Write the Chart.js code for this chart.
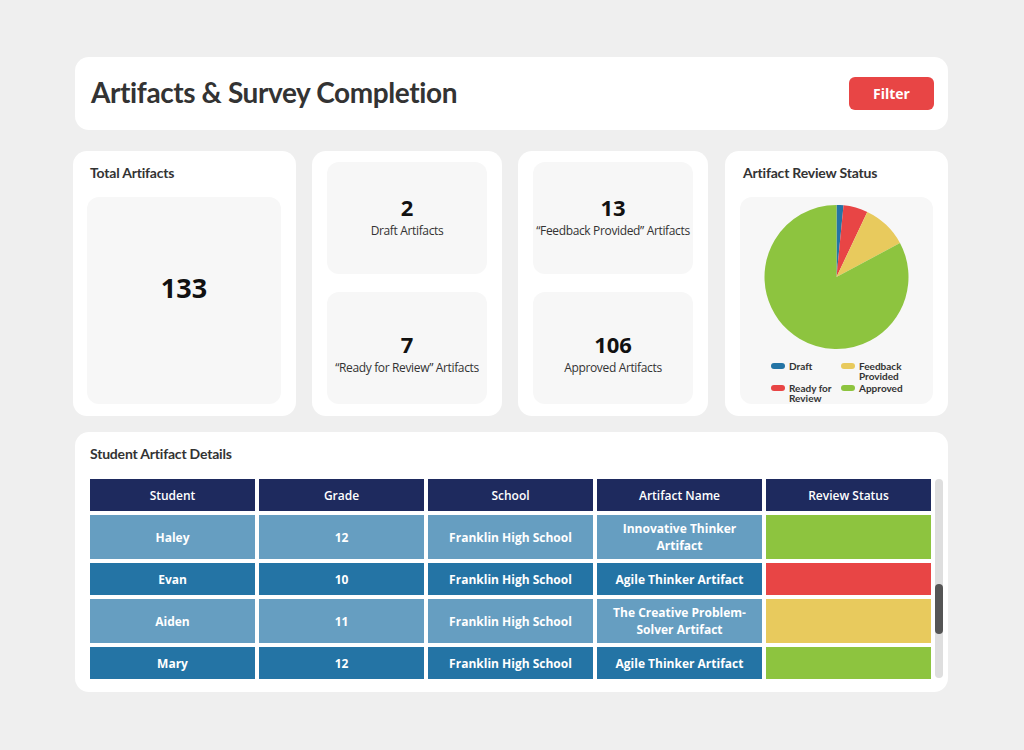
<!DOCTYPE html>
<html>
<head>
<meta charset="utf-8">
<script src="https://cdn.jsdelivr.net/npm/chart.js@4.4.1/dist/chart.umd.min.js"></script>
<style>
  * { box-sizing: border-box; }
  html, body { margin: 0; padding: 0; }
  body { width: 1024px; height: 750px; background: #efefef; position: relative; font-family: "Open Sans", sans-serif; color: #222; overflow: hidden; }
  .card { position: absolute; background: #fff; border-radius: 14px; }
  .titulo { position: absolute; font-family: Lato, "Noto Sans", sans-serif; font-weight: 700; font-size: 14px; color: #333; letter-spacing: -0.2px; }
  .caixa { position: absolute; background: #f7f7f7; border-radius: 12px; display: flex; flex-direction: column; align-items: center; justify-content: center; text-align: center; }
  .caixa .num { font-weight: 700; font-size: 22px; line-height: 24px; color: #111; }
  .caixa .rot { font-size: 12px; color: #333; line-height: 16px; white-space: nowrap; margin-top: 4px; letter-spacing: -0.35px; }
  #header h1 { position: absolute; left: 16px; top: 18px; margin: 0; font-family: Lato, "Noto Sans", sans-serif; font-weight: 700; font-size: 28px; color: #333; letter-spacing: -0.4px; }
  #btn_filtro { position: absolute; left: 774px; top: 20px; width: 85px; height: 33px; background: #e84545; border-radius: 6px; color: #fff; font-weight: 700; font-size: 14px; display: flex; align-items: center; justify-content: center; }
  #legenda { position: absolute; left: 31px; top: 164px; display: grid; grid-template-columns: 70px 80px; grid-auto-flow: column; grid-template-rows: 22px 22px; text-align: left; }
  .leg { display: flex; align-items: flex-start; font-family: Lato, "Noto Sans", sans-serif; font-weight: 700; font-size: 10px; line-height: 10px; color: #333; }
  .leg span.m { width: 14px; height: 6px; border-radius: 3px; margin-right: 4px; margin-top: 2px; flex: none; }
  #tabela { position: absolute; left: 11px; top: 43px; border-collapse: separate; border-spacing: 4px; }
  #tabela th, #tabela td { width: 165px; text-align: center; color: #fff; padding: 0 10px; }
  #tabela th { background: #1e2a5e; height: 32px; font-weight: 600; font-size: 12px; }
  #tabela td { font-weight: 700; font-size: 12px; line-height: 17px; }
  #scroll { position: absolute; left: 860px; top: 47px; width: 8px; height: 199px; background: #dedede; border-radius: 4px; }
  #scroll div { position: absolute; left: 0; top: 105px; width: 8px; height: 50px; background: #555; border-radius: 4px; }
</style>
</head>
<body>
  <div class="card" id="header" style="left:75px; top:57px; width:873px; height:73px;">
    <h1>Artifacts &amp; Survey Completion</h1>
    <div id="btn_filtro">Filter</div>
  </div>

  <div class="card" style="left:73px; top:151px; width:223px; height:265px;">
    <div class="titulo" style="left:17px; top:13px;">Total Artifacts</div>
    <div class="caixa" style="left:14px; top:46px; width:194px; height:207px; padding-bottom:26px;">
      <div class="num" id="total" style="font-size:27px; line-height:30px;"></div>
    </div>
  </div>

  <div class="card" style="left:312px; top:151px; width:190px; height:265px;">
    <div class="caixa" style="left:15px; top:11px; width:160px; height:112px; padding-bottom:2px;"><div class="num" id="n0"></div><div class="rot" id="r0"></div></div>
    <div class="caixa" style="left:15px; top:141px; width:160px; height:112px; padding-top:12px;"><div class="num" id="n1"></div><div class="rot" id="r1"></div></div>
  </div>

  <div class="card" style="left:518px; top:151px; width:190px; height:265px;">
    <div class="caixa" style="left:15px; top:11px; width:160px; height:112px; padding-bottom:2px;"><div class="num" id="n2"></div><div class="rot" id="r2"></div></div>
    <div class="caixa" style="left:15px; top:141px; width:160px; height:112px; padding-top:12px;"><div class="num" id="n3"></div><div class="rot" id="r3"></div></div>
  </div>

  <div class="card" style="left:725px; top:151px; width:223px; height:265px;">
    <div class="titulo" style="left:18px; top:13px;">Artifact Review Status</div>
    <div class="caixa" style="left:15px; top:46px; width:193px; height:207px; display:block;">
      <div style="position:absolute; left:0; top:4px; width:193px; height:152px;">
        <canvas id="grafico_status"></canvas>
      </div>
      <div id="legenda"></div>
    </div>
  </div>

  <div class="card" style="left:75px; top:432px; width:873px; height:260px;">
    <div class="titulo" style="left:15px; top:13px;">Student Artifact Details</div>
    <table id="tabela"></table>
    <div id="scroll"><div></div></div>
  </div>

<script>
  let azul = "#2474a5";
  let vermelho = "#e84545";
  let amarelo = "#e8ca5d";
  let verde = "#8dc43f";

  // Dados dos cards:
  let total_artefatos = 133
  let status_rotulos = ['Draft', 'Ready for Review', 'Feedback Provided', 'Approved']
  let status_valores = [2, 7, 13, 106]
  let status_cores = [azul, vermelho, amarelo, verde]
  let cards_rotulos = ['Draft Artifacts', '\u201CReady for Review\u201D Artifacts', '\u201CFeedback Provided\u201D Artifacts', 'Approved Artifacts']

  // Dados da tabela:
  let colunas = ['Student', 'Grade', 'School', 'Artifact Name', 'Review Status']
  let alunos = ['Haley', 'Evan', 'Aiden', 'Mary']
  let series = ['12', '10', '11', '12']
  let escolas = ['Franklin High School', 'Franklin High School', 'Franklin High School', 'Franklin High School']
  let artefatos = ['Innovative Thinker Artifact', 'Agile Thinker Artifact', 'The Creative Problem-Solver Artifact', 'Agile Thinker Artifact']
  let status_alunos = ['Approved', 'Ready for Review', 'Feedback Provided', 'Approved']

  // Cards:
  document.getElementById('total').textContent = total_artefatos
  status_valores.forEach((v, i) => {
    document.getElementById('n' + i).textContent = v
    document.getElementById('r' + i).textContent = cards_rotulos[i]
  })

  // Legenda (duas colunas):
  let legenda = document.getElementById('legenda')
  status_rotulos.forEach((nome, i) => {
    let item = document.createElement('div')
    item.className = 'leg'
    if (nome == 'Ready for Review') nome = 'Ready for<br>Review'
    if (nome == 'Feedback Provided') nome = 'Feedback<br>Provided'
    item.innerHTML = '<span class="m" style="background:' + status_cores[i] + '"></span><span>' + nome + '</span>'
    legenda.appendChild(item)
  })

  // Tabela:
  let tabela = document.getElementById('tabela')
  let cab = '<tr>'
  colunas.forEach(c => { cab += '<th>' + c + '</th>' })
  cab += '</tr>'
  let linhas = ''
  alunos.forEach((a, i) => {
    let fundo = i % 2 == 0 ? '#669ec1' : azul
    let altura = artefatos[i].length > 24 ? 44 : 32
    let cor_status = status_cores[status_rotulos.indexOf(status_alunos[i])]
    linhas += '<tr style="height:' + altura + 'px">'
    linhas += '<td style="background:' + fundo + '">' + a + '</td>'
    linhas += '<td style="background:' + fundo + '">' + series[i] + '</td>'
    linhas += '<td style="background:' + fundo + '">' + escolas[i] + '</td>'
    linhas += '<td style="background:' + fundo + '">' + artefatos[i] + '</td>'
    linhas += '<td style="background:' + cor_status + '"></td>'
    linhas += '</tr>'
  })
  tabela.innerHTML = cab + linhas

  // Gráfico de pizza:
  const c_status = document.getElementById('grafico_status').getContext('2d');
  new Chart(c_status, {
    type: 'pie',
    data: {
      labels: status_rotulos,
      datasets: [{
        data: status_valores,
        backgroundColor: status_cores,
        borderWidth: 0
      }]
    },
    options: {
      responsive: true,
      maintainAspectRatio: false,
      animation: false,
      layout: { padding: 4 },
      plugins: {
        legend: { display: false }, // legenda feita em HTML
        tooltip: { enabled: false }
      }
    }
  });
</script>
</body>
</html>
